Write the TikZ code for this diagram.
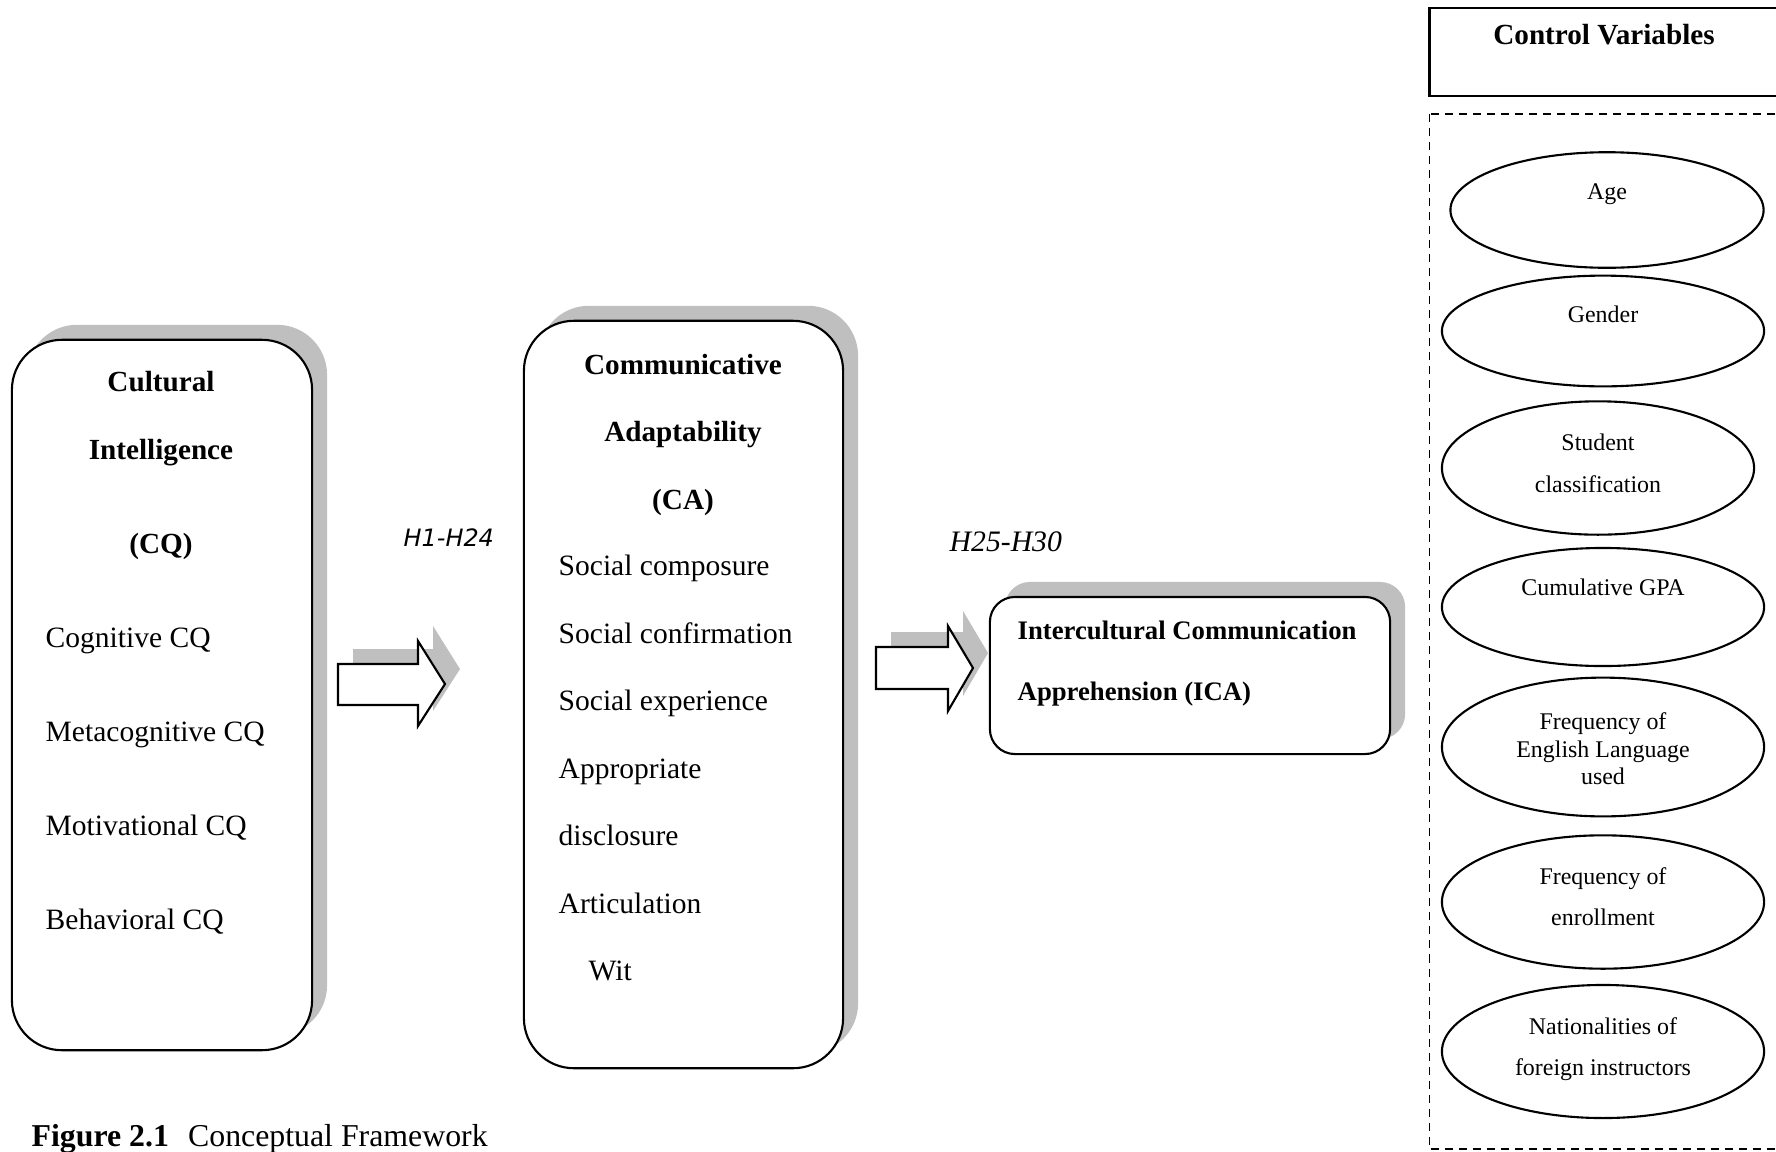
\documentclass[tikz,border=0pt]{standalone}
\usepackage{fontspec}
\setmainfont{Liberation Serif}
\newfontfamily\hypfont{DejaVu Sans}
\usetikzlibrary{shapes.geometric,shadows}

\begin{document}
\begin{tikzpicture}[x=0.01cm,y=-0.01cm,
    grayshadow/.style={general shadow={shadow xshift=0.15cm,shadow yshift=0.15cm,fill=black!25}},
    framebox/.style={draw,fill=white,line width=0.6pt,grayshadow},
    blockarrow/.style={draw,fill=white,line width=0.6pt,line join=miter,grayshadow},
    cvell/.style={draw,ellipse,line width=0.6pt,minimum width=3.22cm,inner sep=0pt},
    headtext/.style={anchor=base,inner sep=0pt,font=\fontsize{8.3}{10}\selectfont\bfseries},
    itemtext/.style={anchor=base west,inner sep=0pt,font=\fontsize{8.4}{10}\selectfont},
    cvtext/.style={anchor=base,inner sep=0pt,font=\fontsize{6.8}{8}\selectfont}]
  \useasboundingbox (0,0) rectangle (1776,1151);

  % main boxes
  \node[framebox,rounded corners=0.5cm,minimum width=3cm,minimum height=7.1cm] (cq) at (162,695) {};
  \node[framebox,rounded corners=0.5cm,minimum width=3.19cm,minimum height=7.47cm] (ca) at (683.5,694.5) {};
  \node[framebox,rounded corners=0.25cm,minimum width=4cm,minimum height=1.57cm] (ica) at (1190,675.5) {};

  % cultural intelligence
  \node[headtext] (cqa) at (161,391) {Cultural};
  \node[headtext] (cqb) at (161,459) {Intelligence};
  \node[headtext] (cqc) at (161,553) {(CQ)};
  \node[itemtext] (cog) at (45,647) {Cognitive CQ};
  \node[itemtext] (meta) at (45,741) {Metacognitive CQ};
  \node[itemtext] (moti) at (45,835) {Motivational CQ};
  \node[itemtext] (beha) at (45,929) {Behavioral CQ};

  % communicative adaptability
  \node[headtext] (caa) at (683,374) {Communicative};
  \node[headtext] (cab) at (683,441) {Adaptability};
  \node[headtext] (cac) at (683,509) {(CA)};
  \node[itemtext] (comp) at (558,575) {Social composure};
  \node[itemtext] (conf) at (558,643) {Social confirmation};
  \node[itemtext] (expe) at (558,710) {Social experience};
  \node[itemtext] (appr) at (558,778) {Appropriate};
  \node[itemtext] (disc) at (558,845) {disclosure};
  \node[itemtext] (arti) at (558,913) {Articulation};
  \node[itemtext] (wit) at (588,980) {Wit};

  % apprehension
  \node[itemtext,font=\fontsize{7.6}{9}\selectfont\bfseries] (icaa) at (1017,639) {Intercultural Communication};
  \node[itemtext,font=\fontsize{7.6}{9}\selectfont\bfseries] (icab) at (1017,700) {Apprehension (ICA)};

  % block arrows
  \draw[blockarrow] (338,664) -- (418,664) -- (418,641) -- (445,684) -- (418,726) -- (418,705) -- (338,705) -- cycle;
  \draw[blockarrow] (876,647) -- (948,647) -- (948,626) -- (973,668) -- (948,711) -- (948,689) -- (876,689) -- cycle;
  \node[itemtext,font=\hypfont\itshape\fontsize{6.8}{8}\selectfont] (hypa) at (403,546) {H1-H24};
  \node[itemtext,font=\itshape\fontsize{8.45}{10}\selectfont] (hypb) at (949,551) {H25-H30};

  % control variables
  \draw[line width=0.85pt] (1429.5,8) rectangle (1800,96);
  \node[headtext] (ctrl) at (1604,44) {Control Variables};
  \draw[line width=0.5pt,dash pattern=on 0.08cm off 0.06cm] (1429.5,114) rectangle (1800,1149);

  \node[cvell,minimum width=3.13cm,minimum height=1.155cm] (age) at (1607,210) {};
  \node[cvell,minimum height=1.107cm] (gender) at (1603,331) {};
  \node[cvell,minimum width=3.12cm,minimum height=1.333cm] (student) at (1598,468) {};
  \node[cvell,minimum height=1.18cm] (gpa) at (1603,607) {};
  \node[cvell,minimum height=1.387cm] (english) at (1603,747) {};
  \node[cvell,minimum height=1.333cm] (enroll) at (1603,902) {};
  \node[cvell,minimum height=1.33cm] (nation) at (1603,1051.5) {};

  \node[cvtext] (agea) at (1607,199) {Age};
  \node[cvtext] (gena) at (1603,322) {Gender};
  \node[cvtext] (stua) at (1598,450) {Student};
  \node[cvtext] (stub) at (1598,492) {classification};
  \node[cvtext] (gpaa) at (1603,595) {Cumulative GPA};
  \node[cvtext] (enga) at (1603,729) {Frequency of};
  \node[cvtext] (engb) at (1603,757) {English Language};
  \node[cvtext] (engc) at (1603,784) {used};
  \node[cvtext] (enra) at (1603,884) {Frequency of};
  \node[cvtext] (enrb) at (1603,925) {enrollment};
  \node[cvtext] (nata) at (1603,1034) {Nationalities of};
  \node[cvtext] (natb) at (1603,1075) {foreign instructors};

  % caption
  \node[itemtext,font=\fontsize{9.05}{11}\selectfont] (caption) at (31,1146) {\textbf{Figure 2.1}\hspace{0.6em}Conceptual Framework};
\end{tikzpicture}
\end{document}
